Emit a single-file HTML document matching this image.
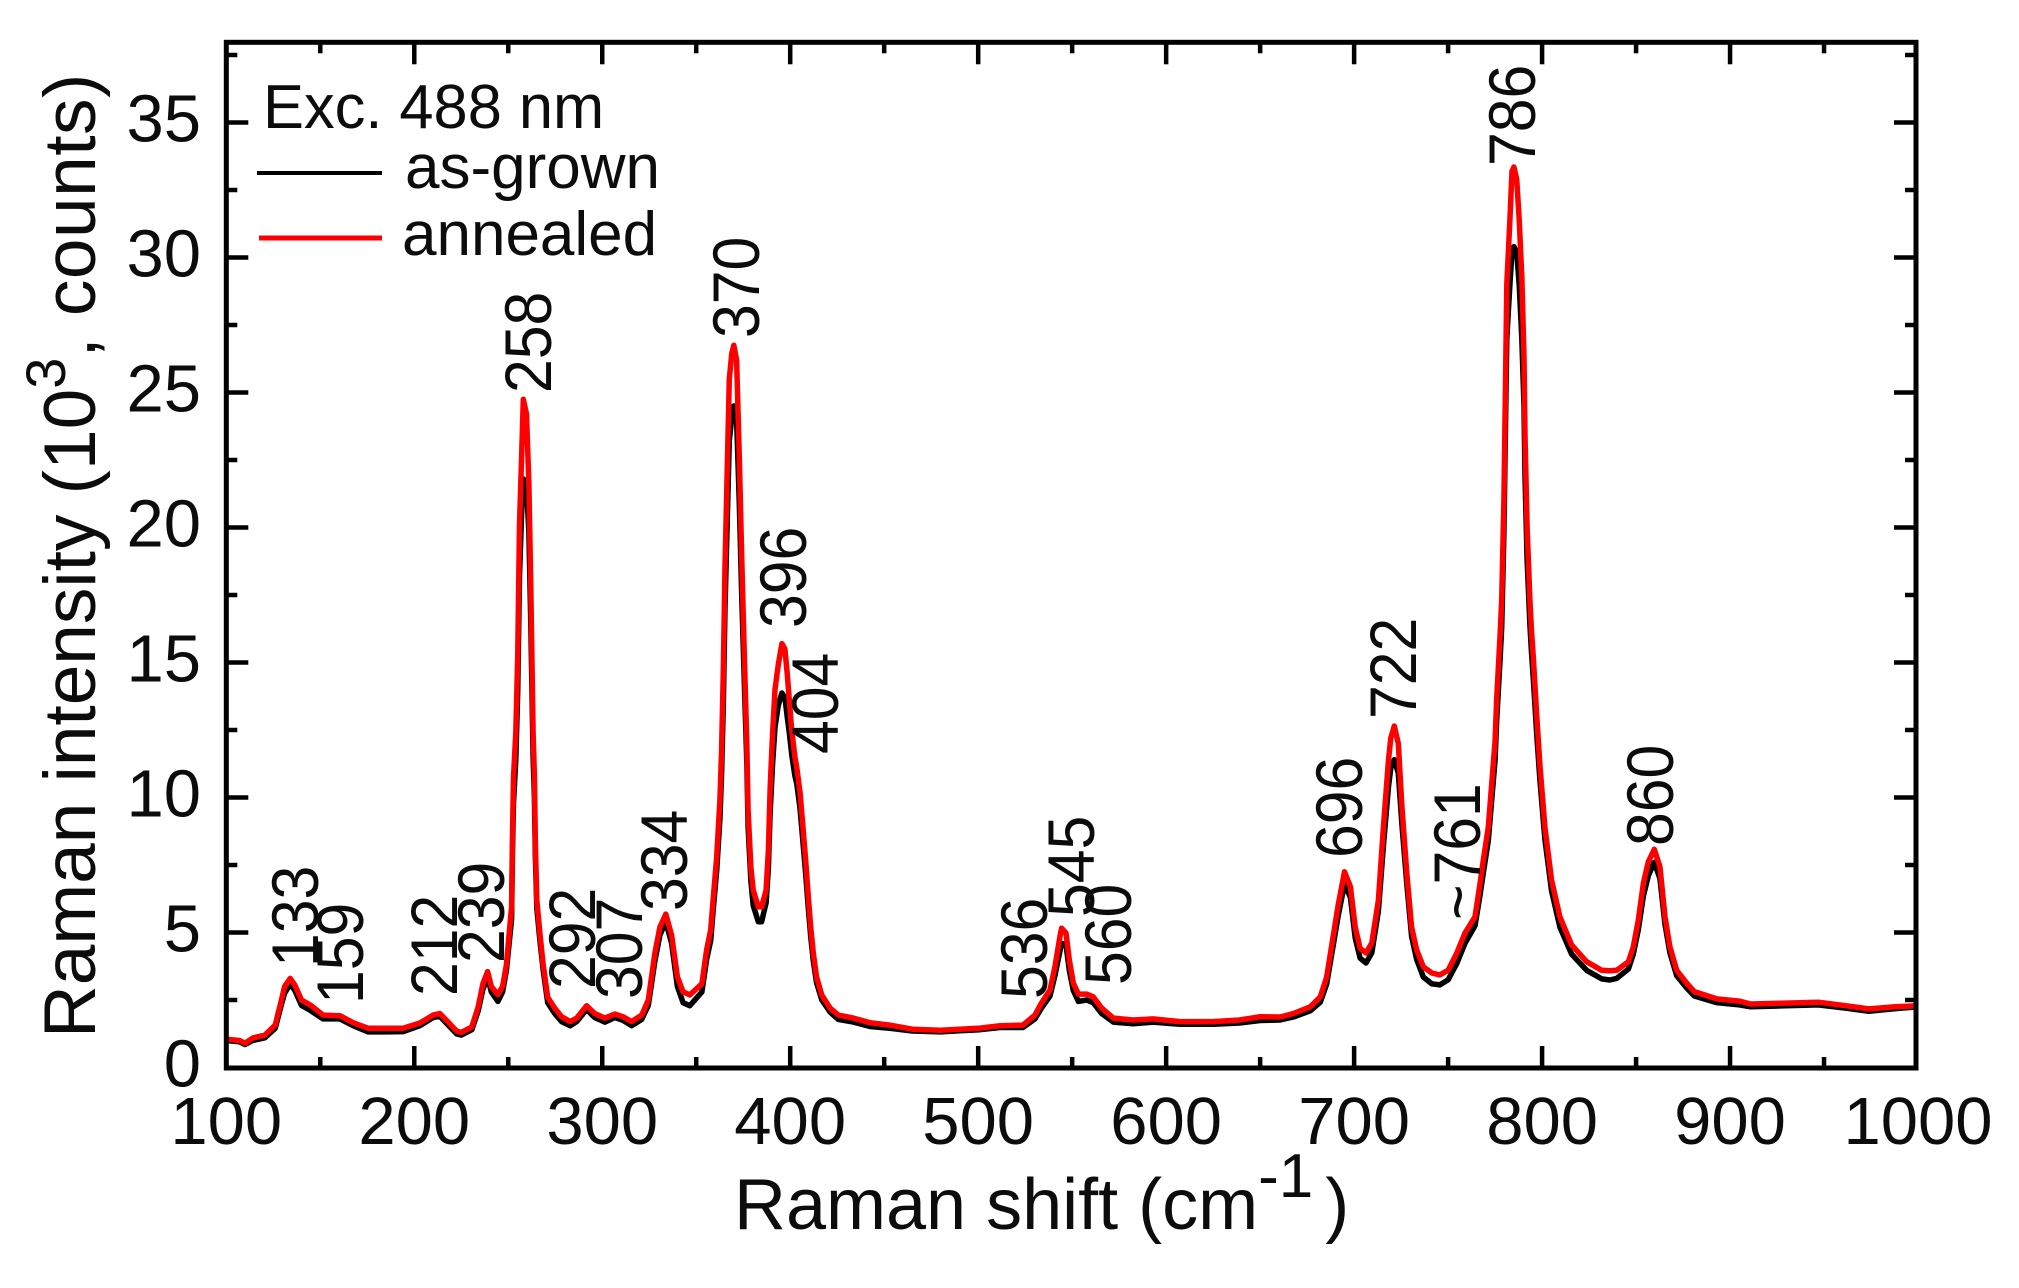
<!DOCTYPE html>
<html lang="en">
<head>
<meta charset="utf-8">
<title>Raman spectrum</title>
<style>
html,body{margin:0;padding:0;background:#fff;}
svg{display:block;}
text{font-family:"Liberation Sans",sans-serif;fill:#0c0c0c;}
</style>
</head>
<body>
<svg id="chart" xmlns="http://www.w3.org/2000/svg" width="2019" height="1288" viewBox="0 0 2019 1288">
<rect x="0" y="0" width="2019" height="1288" fill="#fff"/>
<defs><clipPath id="plot-clip"><rect x="226" y="42" width="1690" height="1026"/></clipPath></defs>
<g id="series" clip-path="url(#plot-clip)"></g>
<rect x="226.3" y="42.3" width="1689.7" height="1025.7" fill="none" stroke="#000" stroke-width="5"/>
<g id="ticks"></g>
<g id="tick-labels"></g>

<text x="734" y="1229" font-size="72">Raman shift (cm<tspan font-size="62" dy="-32">-1</tspan><tspan dy="32" dx="12">)</tspan></text>
<text transform="translate(95,1038) rotate(-90)" font-size="73">Raman intensity (10<tspan font-size="56" dy="-30">3</tspan><tspan dy="30" letter-spacing="0.5">, counts)</tspan></text>

<text transform="translate(263,128) scale(0.99,1)" font-size="62">Exc. 488 nm</text>
<line x1="257" y1="173" x2="382" y2="173" stroke="#000" stroke-width="4"/>
<text x="405" y="188" font-size="62">as-grown</text>
<line x1="259" y1="238" x2="382" y2="238" stroke="#f00" stroke-width="5"/>
<text x="402" y="255" font-size="62">annealed</text>

<g font-size="66">
<text transform="translate(318,967) rotate(-90) scale(.92,1)">133</text>
<text transform="translate(363,1004) rotate(-90) scale(.92,1)">159</text>
<text transform="translate(457,996) rotate(-90) scale(.92,1)">212</text>
<text transform="translate(504,963) rotate(-90) scale(.92,1)">239</text>
<text transform="translate(551,393) rotate(-90) scale(.92,1)">258</text>
<text transform="translate(595,989) rotate(-90) scale(.92,1)">292</text>
<text transform="translate(642,999) rotate(-90) scale(.92,1)">307</text>
<text transform="translate(687,911) rotate(-90) scale(.92,1)">334</text>
<text transform="translate(759,338) rotate(-90) scale(.92,1)">370</text>
<text transform="translate(806,628) rotate(-90) scale(.92,1)">396</text>
<text transform="translate(838,754) rotate(-90) scale(.92,1)">404</text>
<text transform="translate(1047,999) rotate(-90) scale(.92,1)">536</text>
<text transform="translate(1094,917) rotate(-90) scale(.92,1)">545</text>
<text transform="translate(1131,985) rotate(-90) scale(.92,1)">560</text>
<text transform="translate(1362,858) rotate(-90) scale(.92,1)">696</text>
<text transform="translate(1416,719) rotate(-90) scale(.92,1)">722</text>
<text transform="translate(1480,920) rotate(-90) scale(.92,1)">~761</text>
<text transform="translate(1535,166) rotate(-90) scale(.92,1)">786</text>
<text transform="translate(1673,846) rotate(-90) scale(.92,1)">860</text>
</g>
</svg>
<script>
const xMajorTicks = [100,200,300,400,500,600,700,800,900,1000];
const xMinorTicks = [150,250,350,450,550,650,750,850,950];
const yMajorTicks = [0,5,10,15,20,25,30,35];
const yMinorTicks = [2.5,7.5,12.5,17.5,22.5,27.5,32.5,37.5];

const ramanShift = [100,107,110,114,120.5,126,129.6,131,134,136.5,140,145,151.5,160.5,167.5,175.5,183.5,194,203,210,213.6,217,222.5,225,230.6,234,236.5,239,241,244.5,247,249,251.8,252.2,252.8,254,255,256,257.1,258,259.7,261,262,263.2,263.9,264.4,265.2,267,268.6,271,274.7,278.4,283,286.4,291.7,296,301.4,306.7,311,315.6,321,324.5,328,330.7,333.8,336.9,340,343,346.6,353,355.5,357.7,359,360.9,362.6,363.5,364.4,365.3,366.5,367.6,368.9,370,371.5,372.9,374.2,375.6,376.9,377.6,379.1,380.3,383,384.8,387.2,388.4,389.3,390.6,391.9,393.6,395.6,397.2,398.4,399.5,400.8,402.5,403.5,405.2,406.6,408.2,409.6,410.9,412.3,414,416.8,421.2,425.6,433.6,442.4,453,465,480,490,501,511.6,523.8,530.2,533.7,538.2,540.8,543.5,544.4,546.7,548.5,550.6,553.3,557.7,561.2,565.7,571.9,582.4,593,607.3,625,639,650,660.6,667.7,676.7,682,685.4,688.8,691.5,694.9,698,700.6,703.2,706.3,709.4,712.9,715.6,718.3,719.5,721.4,723.5,725.4,728,730.6,733.3,736.8,741.3,745.6,750,754.6,759,764.3,767,768.7,771.4,773.2,775,775.8,777.7,778.5,779.7,780.4,781.2,782.9,784,785,786.5,787.8,789.2,790.4,790.9,792,793.5,794.4,795.3,797.1,798.9,801.5,805,809.5,815.7,823.7,831.7,836,839.7,845.9,848.5,851.2,853.9,856.5,859.7,862.7,865.4,868,871.6,876.9,881,893,905,911,927,947,961.5,973.8,988,1000];
const annealed = [1.05,1.0,0.9,1.09,1.2,1.57,2.57,3.0,3.3,3.05,2.5,2.3,1.94,1.92,1.66,1.45,1.45,1.45,1.65,1.94,2.0,1.76,1.35,1.3,1.5,2.25,3.1,3.55,3.0,2.7,3.0,3.8,5.95,8.4,10.75,12.4,15.2,20.1,22.6,24.75,24.2,21.6,17.75,12.4,10.8,8.4,6.2,4.85,3.8,2.6,2.2,1.88,1.7,1.83,2.29,2.0,1.83,1.98,1.88,1.7,1.94,2.5,4.24,5.2,5.68,4.9,3.36,2.8,2.69,3.1,4.35,5.1,6.2,7.8,9.9,11.76,14.66,18.55,22.1,25.5,26.45,26.75,26.2,22.6,18.9,15.3,12,9.5,7.4,6.57,5.95,5.95,6.57,8.05,10.3,12.3,14,14.9,15.7,15.5,14.6,13.6,12.5,11.5,11.1,10.2,9.05,7.7,6.33,5.2,4.24,3.36,2.68,2.2,1.94,1.83,1.66,1.57,1.42,1.38,1.42,1.46,1.55,1.57,1.94,2.39,2.87,3.73,4.84,5.16,4.98,3.98,3.13,2.72,2.72,2.62,2.2,1.83,1.76,1.8,1.7,1.7,1.76,1.88,1.87,2.0,2.25,2.62,3.36,4.84,6.0,7.25,6.7,5.2,4.42,4.24,4.61,6.2,8.9,11.4,12.2,12.65,12,9.66,7.2,5.2,4.35,3.73,3.5,3.43,3.6,4.24,4.98,5.58,6.83,7.68,8.9,10.5,12.1,13.6,16.1,17.3,21,24.5,29,31.4,33.2,33.35,32.9,31.4,29.3,26.3,23.4,20,17.3,16.1,15.2,13.1,11.15,8.9,6.95,5.58,4.54,3.92,3.6,3.58,3.6,3.92,4.47,5.46,6.83,7.62,8.08,7.44,5.58,4.47,3.6,3.13,2.81,2.54,2.46,2.35,2.38,2.42,2.29,2.17,2.25,2.29];
const asGrown = [1.0,0.95,0.85,1.0,1.1,1.45,2.4,2.75,3.1,2.85,2.3,2.1,1.8,1.8,1.55,1.32,1.32,1.33,1.55,1.85,1.9,1.65,1.25,1.2,1.4,2.1,2.9,3.35,2.8,2.45,2.8,3.6,5.5,7.8,9.8,11.4,13.9,18.2,20.5,21.8,21.6,19.8,16.4,11.5,10,7.9,5.9,4.6,3.6,2.4,2.0,1.7,1.55,1.7,2.15,1.85,1.68,1.85,1.75,1.55,1.78,2.3,3.95,4.9,5.4,4.6,3.0,2.4,2.29,2.8,4.0,4.7,5.8,7.3,9.2,10.9,13.4,17,20.2,23.2,24.1,24.5,24,20.9,17.5,14.3,11.3,8.9,6.9,6.0,5.4,5.4,6.1,7.4,9.4,11.2,12.6,13.4,13.87,13.7,13,12.4,11.6,10.8,10.5,9.6,8.5,7.2,5.9,4.85,3.95,3.15,2.5,2.05,1.78,1.68,1.52,1.45,1.35,1.32,1.36,1.4,1.48,1.48,1.8,2.2,2.65,3.4,4.3,4.6,4.55,3.6,2.85,2.45,2.5,2.4,2.0,1.68,1.62,1.68,1.6,1.6,1.65,1.74,1.76,1.87,2.1,2.42,3.1,4.5,5.6,6.8,6.3,4.8,4.05,3.87,4.25,5.8,8.2,10.4,11.1,11.4,10.9,9.0,6.8,4.85,4.0,3.35,3.1,3.06,3.25,3.85,4.6,5.25,6.4,7.2,8.4,9.9,11.4,12.8,15.2,16.3,19.8,23,27,29,30.2,30.4,30.2,29,27,24.5,21.9,18.8,16.4,15.3,14.4,12.4,10.6,8.45,6.55,5.2,4.2,3.6,3.28,3.24,3.3,3.65,4.2,5.1,6.35,7.1,7.6,7.0,5.3,4.25,3.4,2.95,2.65,2.4,2.32,2.25,2.28,2.32,2.2,2.08,2.18,2.25];

const SVG_NS = 'http://www.w3.org/2000/svg';
function xScale(v){ return 226.3 + (v - 100) * 1.8797; }
function yScale(v){ return 1067.5 - v * 27; }

function buildPath(xs, ys){
  let d = '';
  for (let i = 0; i < xs.length; i++) {
    d += (i ? 'L' : 'M') + xScale(xs[i]).toFixed(1) + ' ' + yScale(ys[i]).toFixed(1);
  }
  return d;
}

const seriesGroup = document.getElementById('series');
const blackPath = document.createElementNS(SVG_NS, 'path');


blackPath.setAttribute('d', buildPath(ramanShift, asGrown));
blackPath.setAttribute('fill', 'none');
blackPath.setAttribute('stroke', '#000');
blackPath.setAttribute('stroke-width', '5.5');
blackPath.setAttribute('stroke-linejoin', 'round');
seriesGroup.appendChild(blackPath);

const redPath = document.createElementNS(SVG_NS, 'path');


redPath.setAttribute('d', buildPath(ramanShift, annealed));
redPath.setAttribute('fill', 'none');
redPath.setAttribute('stroke', '#f00');
redPath.setAttribute('stroke-width', '5.5');
redPath.setAttribute('stroke-linejoin', 'round');
seriesGroup.appendChild(redPath);

const tickGroup = document.getElementById('ticks');
function addTick(x1, y1, x2, y2, name){
  const line = document.createElementNS(SVG_NS, 'line');
  
  
  line.setAttribute('x1', x1);
  line.setAttribute('y1', y1);
  line.setAttribute('x2', x2);
  line.setAttribute('y2', y2);
  line.setAttribute('stroke', '#000');
  line.setAttribute('stroke-width', '4.5');
  tickGroup.appendChild(line);
}
const TOP = 42.3, BOTTOM = 1068, LEFT = 226.3, RIGHT = 1916;
xMajorTicks.slice(1, -1).forEach(function(v){
  addTick(xScale(v), BOTTOM, xScale(v), BOTTOM - 22, 'x-major-tick');
  addTick(xScale(v), TOP, xScale(v), TOP + 22, 'x-major-tick-top');
});
xMinorTicks.forEach(function(v){
  addTick(xScale(v), BOTTOM, xScale(v), BOTTOM - 11, 'x-minor-tick');
  addTick(xScale(v), TOP, xScale(v), TOP + 11, 'x-minor-tick-top');
});
yMajorTicks.slice(1).forEach(function(v){
  addTick(LEFT, yScale(v), LEFT + 22, yScale(v), 'y-major-tick');
  addTick(RIGHT, yScale(v), RIGHT - 22, yScale(v), 'y-major-tick-right');
});
yMinorTicks.forEach(function(v){
  addTick(LEFT, yScale(v), LEFT + 11, yScale(v), 'y-minor-tick');
  addTick(RIGHT, yScale(v), RIGHT - 11, yScale(v), 'y-minor-tick-right');
});

const labelGroup = document.getElementById('tick-labels');
xMajorTicks.forEach(function(v){
  const t = document.createElementNS(SVG_NS, 'text');
  
  
  t.setAttribute('x', xScale(v));
  t.setAttribute('y', 1144);
  t.setAttribute('font-size', '67');
  t.setAttribute('text-anchor', 'middle');
  t.textContent = String(v);
  labelGroup.appendChild(t);
});
yMajorTicks.forEach(function(v){
  const t = document.createElementNS(SVG_NS, 'text');
  
  
  t.setAttribute('x', 201);
  t.setAttribute('y', yScale(v) + 19);
  t.setAttribute('font-size', '67');
  t.setAttribute('text-anchor', 'end');
  t.textContent = String(v);
  labelGroup.appendChild(t);
});
</script>
</body>
</html>
